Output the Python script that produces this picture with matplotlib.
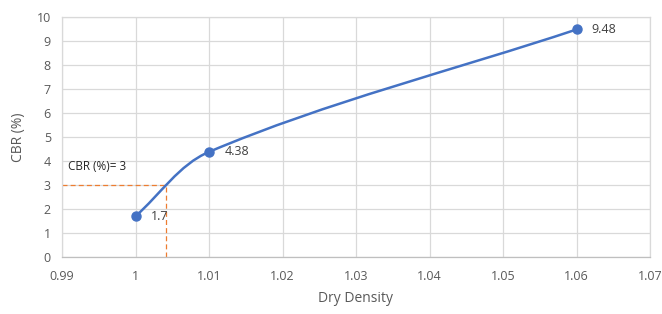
import numpy as np
import matplotlib
matplotlib.use('Agg')
import matplotlib.pyplot as plt
from matplotlib.path import Path
from matplotlib.patches import PathPatch

# data
dry_density = [1.00, 1.01, 1.06]
cbr = [1.7, 4.38, 9.48]
point_labels = ['1.7', '4.38', '9.48']
target_cbr = 3
target_density = 1.0042
x_ticks = [0.99, 1.0, 1.01, 1.02, 1.03, 1.04, 1.05, 1.06, 1.07]
x_tick_labels = ['0.99', '1', '1.01', '1.02', '1.03', '1.04', '1.05', '1.06', '1.07']
y_ticks = list(range(0, 11))

BLUE = '#4472C4'
ORANGE = '#ED7D31'
TEXT = '#595959'
GRID = '#D9D9D9'

plt.rcParams['font.family'] = ['Open Sans', 'DejaVu Sans']

fig = plt.figure(figsize=(6.62, 3.14), dpi=100)
ax = fig.add_axes([62 / 662, 57 / 314, 588 / 662, 240 / 314])
ax.set_xlim(0.99, 1.07)
ax.set_ylim(0, 10)

# smoothed line (Excel style bezier), control points worked out in pixel-scaled space
sx = 588 / 0.08
sy = 240 / 10
P = np.column_stack([np.array(dry_density) * sx, np.array(cbr) * sy])
n = len(P)
tang = []
for i in range(n):
    d = P[min(i + 1, n - 1)] - P[max(i - 1, 0)]
    tang.append(d / np.linalg.norm(d))
verts = [P[0]]
codes = [Path.MOVETO]
for i in range(n - 1):
    L = np.linalg.norm(P[i + 1] - P[i])
    verts += [P[i] + tang[i] * L / 3, P[i + 1] - tang[i + 1] * L / 3, P[i + 1]]
    codes += [Path.CURVE4] * 3
verts = np.array(verts) / [sx, sy]
ax.add_patch(PathPatch(Path(verts, codes), fill=False, edgecolor=BLUE, lw=1.8, zorder=3))
ax.plot(dry_density, cbr, 'o', color=BLUE, ms=6.5, zorder=4)

for x, y, s in zip(dry_density, cbr, point_labels):
    ax.annotate(s, (x, y), xytext=(11, 0), textcoords='offset points',
                va='center', ha='left', fontsize=9, color='#404040')

# reading at CBR = 3
ax.plot([0.99, target_density], [target_cbr, target_cbr], color=ORANGE, lw=0.9,
        dashes=(4, 2.5), zorder=2)
ax.plot([target_density, target_density], [0, target_cbr], color=ORANGE, lw=0.9,
        dashes=(4, 2.5), zorder=2)
ax.text(0.9908, 3.5, 'CBR (%)= 3', fontsize=8.5, color='#262626', va='bottom', ha='left')

ax.set_xticks(x_ticks)
ax.set_xticklabels(x_tick_labels)
ax.set_yticks(y_ticks)
ax.grid(True, color=GRID, lw=0.9)
ax.set_axisbelow(True)
for sp in ['top', 'right', 'left']:
    ax.spines[sp].set_color(GRID)
    ax.spines[sp].set_linewidth(0.9)
ax.spines['bottom'].set_color('#BFBFBF')
ax.spines['bottom'].set_linewidth(0.9)
ax.tick_params(length=0, labelsize=9, colors=TEXT, pad=9)
ax.tick_params(axis='y', pad=8)

ax.set_xlabel('Dry Density', fontsize=10, color=TEXT, labelpad=6)
ax.set_ylabel('CBR (%)', fontsize=10, color=TEXT, labelpad=8)

fig.savefig('out.png', dpi=100)
